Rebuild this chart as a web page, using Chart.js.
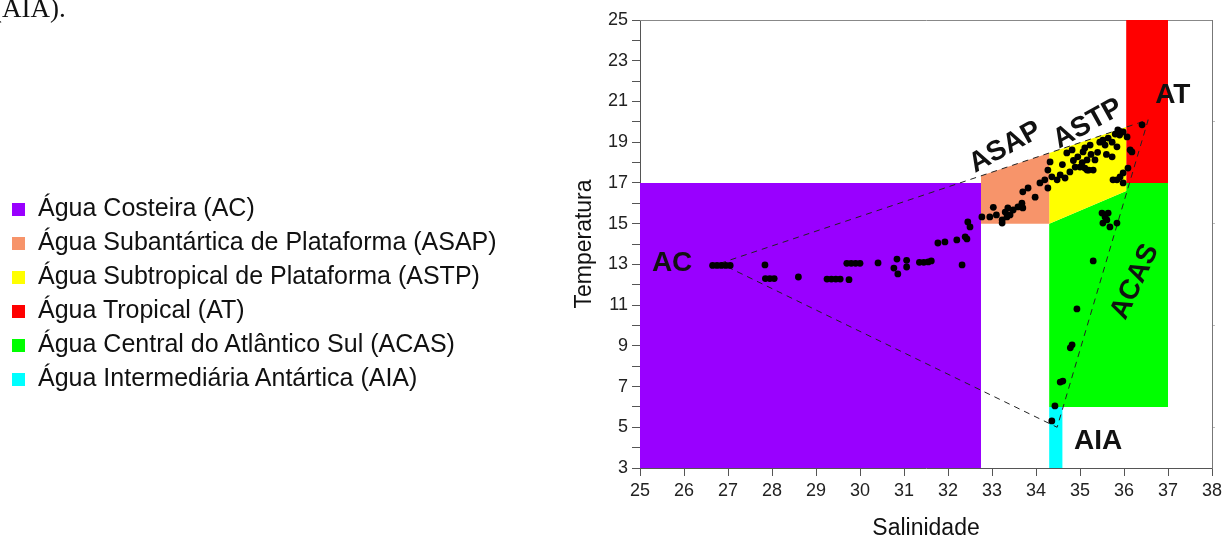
<!DOCTYPE html>
<html lang="pt">
<head>
<meta charset="utf-8">
<title>Diagrama T-S</title>
<script src="https://cdn.jsdelivr.net/npm/chart.js@4.4.1/dist/chart.umd.min.js"></script>
<style>
  html, body { margin: 0; padding: 0; background: #fff; overflow: hidden; }
  #wrap { position: relative; width: 1229px; height: 538px; }
  #grafico { position: absolute; left: 0; top: 0; }
  #topo { position: absolute; left: -7px; top: -5px; font: 27px "Liberation Serif", "Times New Roman", serif; line-height: 27px; color: #111; white-space: nowrap; }
  #legenda { position: absolute; left: 12px; top: 190px; font: 25px "Liberation Sans", Arial, sans-serif; color: #111; }
  #legenda div { height: 34px; line-height: 34px; white-space: nowrap; }
  #legenda span { display: inline-block; width: 13px; height: 13px; margin-right: 13px; vertical-align: middle; }
</style>
</head>
<body>
<div id="wrap">
  <canvas id="grafico" width="1229" height="538"></canvas>
  <div id="topo">(AIA).</div>
  <div id="legenda"></div>
</div>
<script>
// estações: salinidade x temperatura
const salinidade = [
  26.65, 26.75, 26.85, 26.95, 27.05, 27.84, 27.85, 27.95, 28.05, 28.6,
  29.25, 29.35, 29.45, 29.55, 29.75, 29.7, 29.8, 29.9, 30.0, 30.41,
  30.84, 30.77, 30.86, 31.06, 31.06, 31.35, 31.45, 31.55, 31.62, 31.77,
  31.93, 32.2, 32.39, 32.43, 32.32, 32.45, 32.5,
  32.77, 32.95, 33.03, 33.1, 33.23, 33.3, 33.36, 33.41, 33.48, 33.59,
  33.68, 33.7, 33.34, 33.23, 33.7, 33.82, 33.98, 34.09, 34.2, 34.27,
  34.27, 34.36, 34.48, 34.55, 34.66, 34.77, 34.89, 34.7, 34.82, 34.95,
  35.11, 35.0, 35.16, 34.32, 35.07, 35.16, 35.11, 35.23, 35.34, 35.3,
  35.2, 35.45, 35.52, 35.64, 35.57, 35.73, 35.84, 35.73, 35.86, 35.98,
  36.07, 36.14, 36.18, 36.41, 36.09, 35.98, 35.91, 35.84, 35.98, 35.75,
  34.6, 34.85, 35.05, 35.4, 35.6, 35.25, 35.9, 35.8,
  35.5, 35.57, 35.61, 35.52, 35.68, 35.84, 35.64, 35.3, 34.93, 34.78,
  34.82, 34.55, 34.61, 34.43, 34.36
];
const temperatura = [
  12.95, 12.95, 12.95, 12.95, 12.95, 12.97, 12.3, 12.3, 12.3, 12.38,
  12.28, 12.28, 12.28, 12.28, 12.25, 13.05, 13.05, 13.05, 13.05, 13.07,
  13.26, 12.82, 12.53, 13.2, 12.87, 13.1, 13.1, 13.12, 13.17, 14.05,
  14.1, 14.2, 14.35, 14.25, 12.97, 15.08, 14.84,
  15.33, 15.33, 15.8, 15.43, 15.18, 15.57, 15.77, 15.43, 15.67, 15.82,
  16.0, 15.77, 15.33, 15.03, 16.56, 16.75, 16.3, 17.0, 17.15, 16.75,
  17.63, 17.3, 17.15, 17.39, 17.24, 17.54, 17.78, 18.47, 18.62, 18.28,
  18.72, 17.78, 17.63, 18.03, 18.52, 18.13, 17.73, 18.86, 18.13, 17.63,
  17.63, 19.0, 19.1, 19.2, 18.86, 19.0, 18.77, 18.28, 19.6, 19.5,
  19.26, 18.62, 18.52, 19.85, 17.73, 17.49, 17.29, 17.15, 17.0, 17.15,
  17.9, 18.1, 18.0, 18.5, 18.4, 18.4, 19.35, 19.4,
  15.52, 15.33, 15.18, 15.03, 14.84, 15.03, 15.52, 13.17, 10.81, 8.9,
  9.05, 7.22, 7.27, 6.05, 5.31
];

// massas d'água
const massas = [
  'Água Costeira (AC)',
  'Água Subantártica de Plataforma (ASAP)',
  'Água Subtropical de Plataforma (ASTP)',
  'Água Tropical (AT)',
  'Água Central do Atlântico Sul (ACAS)',
  'Água Intermediária Antártica (AIA)'
];
const siglas = ['AC', 'ASAP', 'ASTP', 'AT', 'ACAS', 'AIA'];
const cores = ['#9900ff', '#f7946a', '#ffff00', '#ff0000', '#00ff00', '#00ffff'];

// limites T-S de cada massa (vértices do polígono)
const limiteS = [
  [25, 32.75, 32.75, 25],
  [32.75, 34.3, 34.3, 32.75],
  [34.3, 36.05, 36.05, 34.3],
  [36.05, 37, 37, 36.05],
  [34.3, 37, 37, 36.05, 36.05, 34.3],
  [34.3, 34.6, 34.6, 34.3]
];
const limiteT = [
  [3, 3, 17, 17],
  [15, 15, 18.47, 17.35],
  [15, 16.6, 19.74, 18.47],
  [17, 17, 25, 25],
  [6, 6, 17, 17, 16.6, 15],
  [3, 3, 6, 6]
];

// triângulo de mistura AC - AT - AIA
const misturaS = [26.82, 36.55, 34.48, 26.82];
const misturaT = [13.05, 20.1, 5.0, 13.05];

// eixos
const xTicks = [25, 26, 27, 28, 29, 30, 31, 32, 33, 34, 35, 36, 37, 38];
const yTicks = [3, 4, 5, 6, 7, 8, 9, 10, 11, 12, 13, 14, 15, 16, 17, 18, 19, 20, 21, 22, 23, 24, 25];
const yRotulos = [3, 5, 7, 9, 11, 13, 15, 17, 19, 21, 23, 25];
const direitaTicks = [5, 10, 15, 20];

// onde escrever as siglas dentro do diagrama
const rotulos = {
  s: [25.73, 33.3, 35.18, 37.11, 36.25, 35.41],
  t: [13.07, 18.75, 19.9, 21.32, 12.14, 4.33],
  ang: [0, -29, -29, 0, -65, 0]
};

const fonte = '"Liberation Sans", Arial, sans-serif';

// legenda em html
const leg = document.getElementById('legenda');
massas.forEach((m, i) => {
  const row = document.createElement('div');
  row.innerHTML = `<span style="background:${cores[i]}"></span>${m}`;
  leg.appendChild(row);
});

const rotulosPlugin = {
  id: 'rotulos',
  afterDatasetsDraw(chart) {
    const { ctx, scales: { x, y } } = chart;
    ctx.save();
    ctx.font = `bold 28px ${fonte}`;
    ctx.fillStyle = '#111';
    ctx.textAlign = 'center';
    ctx.textBaseline = 'middle';
    siglas.forEach((s, i) => {
      ctx.save();
      ctx.translate(x.getPixelForValue(rotulos.s[i]), y.getPixelForValue(rotulos.t[i]));
      ctx.rotate(rotulos.ang[i] * Math.PI / 180);
      ctx.fillText(s, 0, 0);
      ctx.restore();
    });
    ctx.restore();
  }
};

const datasets = [];

datasets.push({
  label: 'estações',
  data: salinidade.map((s, i) => ({ x: s, y: temperatura[i] })),
  backgroundColor: '#000',
  borderWidth: 0,
  pointRadius: 3.4,
  order: 0
});

datasets.push({
  label: 'mistura',
  data: misturaS.map((s, i) => ({ x: s, y: misturaT[i] })),
  showLine: true,
  borderColor: '#222',
  borderWidth: 1,
  borderDash: [6, 5],
  pointRadius: 0,
  fill: false,
  order: 1
});

siglas.forEach((sig, k) => {
  datasets.push({
    label: sig,
    data: limiteS[k].map((s, i) => ({ x: s, y: limiteT[k][i] })),
    showLine: true,
    fill: 'shape',
    backgroundColor: cores[k],
    borderColor: 'rgba(0,0,0,0)',
    borderWidth: 0,
    pointRadius: 0,
    tension: 0,
    order: 2
  });
});

new Chart(document.getElementById('grafico'), {
  type: 'scatter',
  data: { datasets },
  options: {
    responsive: false,
    animation: false,
    events: [],
    devicePixelRatio: 1,
    layout: { padding: { left: 560, top: 20, right: 17, bottom: 0 } },
    plugins: { legend: { display: false }, tooltip: { enabled: false } },
    scales: {
      x: {
        type: 'linear', position: 'bottom', min: 25, max: 38,
        afterBuildTicks: s => { s.ticks = xTicks.map(v => ({ value: v })); },
        ticks: { font: { family: fonte, size: 18 }, color: '#222', padding: 4, autoSkip: false, maxRotation: 0 },
        grid: { drawOnChartArea: false, tickLength: 8, color: '#555' },
        border: { color: '#555' },
        title: { display: true, text: 'Salinidade', font: { family: fonte, size: 23 }, color: '#111', padding: { top: 0, bottom: -4 } },
        afterFit: s => { s.height = 70; }
      },
      y: {
        type: 'linear', position: 'left', min: 3, max: 25,
        afterBuildTicks: s => { s.ticks = yTicks.map(v => ({ value: v })); },
        ticks: {
          font: { family: fonte, size: 18 }, color: '#222', padding: 4, autoSkip: false,
          callback: v => (yRotulos.includes(v) ? v : '')
        },
        grid: { drawOnChartArea: false, tickLength: 8, color: '#555' },
        border: { color: '#555' },
        title: { display: true, text: 'Temperatura', font: { family: fonte, size: 23 }, color: '#111', padding: { top: 11, bottom: 0 } },
        afterFit: s => { s.width = 80; }
      },
      xTopo: {
        type: 'linear', position: 'top', min: 25, max: 38,
        ticks: { display: false },
        grid: { display: false },
        border: { color: '#888' },
        afterFit: s => { s.height = 0; }
      },
      yDireita: {
        type: 'linear', position: 'right', min: 3, max: 25,
        afterBuildTicks: s => { s.ticks = direitaTicks.map(v => ({ value: v })); },
        ticks: { display: false },
        grid: { drawOnChartArea: false, tickLength: 3, color: '#bbb' },
        border: { color: '#777' },
        afterFit: s => { s.width = 0; }
      }
    }
  },
  plugins: [rotulosPlugin]
});
</script>
</body>
</html>
